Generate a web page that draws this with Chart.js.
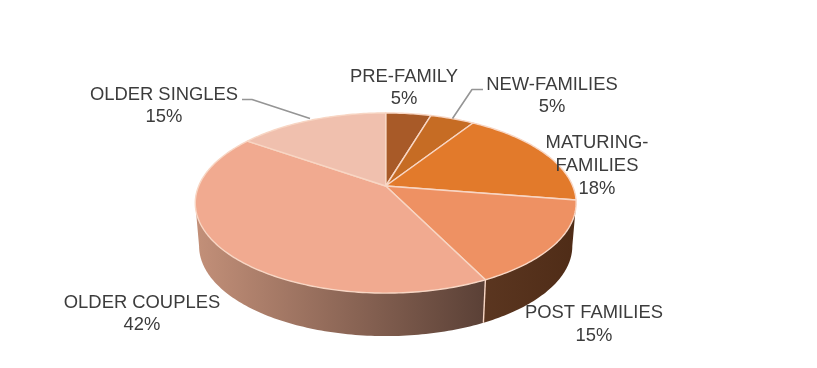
<!DOCTYPE html>
<html>
<head>
<meta charset="utf-8">
<style>
html,body{margin:0;padding:0;background:#fff;}
#wrap{width:817px;height:368px;}
</style>
<script src="https://cdn.jsdelivr.net/npm/chart.js@4"></script>
</head>
<body>
<div id="wrap"><canvas id="pie" width="817" height="368"></canvas></div>
<script>
const categories = ['PRE-FAMILY','NEW-FAMILIES','MATURING-\nFAMILIES','POST FAMILIES','OLDER COUPLES','OLDER SINGLES'];
const shares = [4.6,4.5,18.4,15.2,42.0,15.3];
const topColors = ['#a85a28','#c66c24','#e27a2b','#ee9163','#f1aa90','#f0c0ae'];
const wallColors = [['#6e3a18','#6e3a18'],['#6e3a18','#6e3a18'],['#4a2812','#4a2812'],['#5b3620','#4f2c17'],['#c39079','#5a4036'],['#d0a090','#d0a090']];
const labelCentres = [[404,76.5],[552,84.5],[597,143],[594,313],[142,302.5],[164,94.5]];

// tilted disc, the hub sits above the middle of the ellipse like in a perspective view
const HUB_X = 385.7, HUB_Y = 186, SPREAD_X = 187, SPREAD_Y = 51.7, TILT = -0.189;
const DEPTH = 43, RIM_SHRINK = 0.98;

function project(a, r) {
  const ux = Math.cos(a)*r, uy = Math.sin(a)*r;
  const d = 1+TILT*uy;
  return [HUB_X+SPREAD_X*ux/d, (HUB_Y+SPREAD_Y*uy)/d];
}
function projectLow(a) {
  const p = project(a, 1);
  return [HUB_X+(p[0]-HUB_X)*RIM_SHRINK, p[1]+DEPTH];
}

const FRONT_FROM = 0.19, FRONT_TO = Math.PI-0.19;

class TiltedArc extends Chart.ArcElement {
  static id = 'tiltedArc';
  draw(ctx) {
    const o = this.options, i = this.$context.dataIndex;
    const step = Math.PI/180;
    // wall first, only the part facing the viewer
    const from = Math.max(this.startAngle, FRONT_FROM), to = Math.min(this.endAngle, FRONT_TO);
    if (to > from) {
      const upper = [], lower = [];
      for (let a = from; a < to; a += step) { upper.push(project(a,1)); lower.push(projectLow(a)); }
      upper.push(project(to,1)); lower.push(projectLow(to));
      const xs = upper.concat(lower).map(p => p[0]);
      const g = ctx.createLinearGradient(Math.max(...xs),0,Math.min(...xs),0);
      g.addColorStop(0, wallColors[i][1]);
      g.addColorStop(1, wallColors[i][0]);
      ctx.beginPath();
      upper.forEach((p,k) => k ? ctx.lineTo(p[0],p[1]) : ctx.moveTo(p[0],p[1]));
      lower.reverse().forEach(p => ctx.lineTo(p[0],p[1]));
      ctx.closePath();
      ctx.fillStyle = g;
      ctx.fill();
      if (this.startAngle > FRONT_FROM) {
        const a = project(this.startAngle,1), b = projectLow(this.startAngle);
        ctx.beginPath(); ctx.moveTo(a[0],a[1]); ctx.lineTo(b[0],b[1]);
        ctx.strokeStyle = o.borderColor; ctx.lineWidth = o.borderWidth; ctx.stroke();
      }
    }
    // top face
    ctx.beginPath();
    ctx.moveTo(HUB_X,HUB_Y);
    for (let a = this.startAngle; a < this.endAngle; a += step) { const p = project(a,1); ctx.lineTo(p[0],p[1]); }
    const e = project(this.endAngle,1);
    ctx.lineTo(e[0],e[1]);
    ctx.closePath();
    ctx.fillStyle = o.backgroundColor;
    ctx.fill();
    ctx.strokeStyle = o.borderColor;
    ctx.lineWidth = o.borderWidth;
    ctx.lineJoin = 'round';
    ctx.stroke();
  }
}
class TiltedPie extends Chart.PieController {
  static id = 'tiltedPie';
  static defaults = { dataElementType: 'tiltedArc' };
}
Chart.register(TiltedArc, TiltedPie);

const labelsPlugin = {
  id: 'calloutLabels',
  afterDraw(chart) {
    const ctx = chart.ctx;
    ctx.save();
    // leader lines
    ctx.strokeStyle = '#959595';
    ctx.lineWidth = 1.6;
    ctx.beginPath();
    ctx.moveTo(242,99.5); ctx.lineTo(252,99.5); ctx.lineTo(310,118.5);
    ctx.moveTo(483,89.5); ctx.lineTo(472,89.5); ctx.lineTo(452.5,118.5);
    ctx.stroke();
    ctx.font = '18.4px "Liberation Sans"';
    ctx.fillStyle = '#3c3c3c';
    ctx.textAlign = 'center';
    ctx.textBaseline = 'middle';
    categories.forEach((c,i) => {
      const lines = c.split('\n').concat(Math.round(shares[i])+'%');
      lines.forEach((t,k) => ctx.fillText(t, labelCentres[i][0], labelCentres[i][1]+k*22.8));
    });
    ctx.restore();
  }
};

new Chart(document.getElementById('pie'), {
  type: 'tiltedPie',
  data: {
    labels: categories,
    datasets: [{ data: shares, backgroundColor: topColors, borderColor: '#f8d6c4', borderWidth: 1.4 }]
  },
  options: {
    responsive: false,
    animation: false,
    events: [],
    plugins: { legend: { display: false }, tooltip: { enabled: false } }
  },
  plugins: [labelsPlugin]
});
</script>
</body>
</html>
